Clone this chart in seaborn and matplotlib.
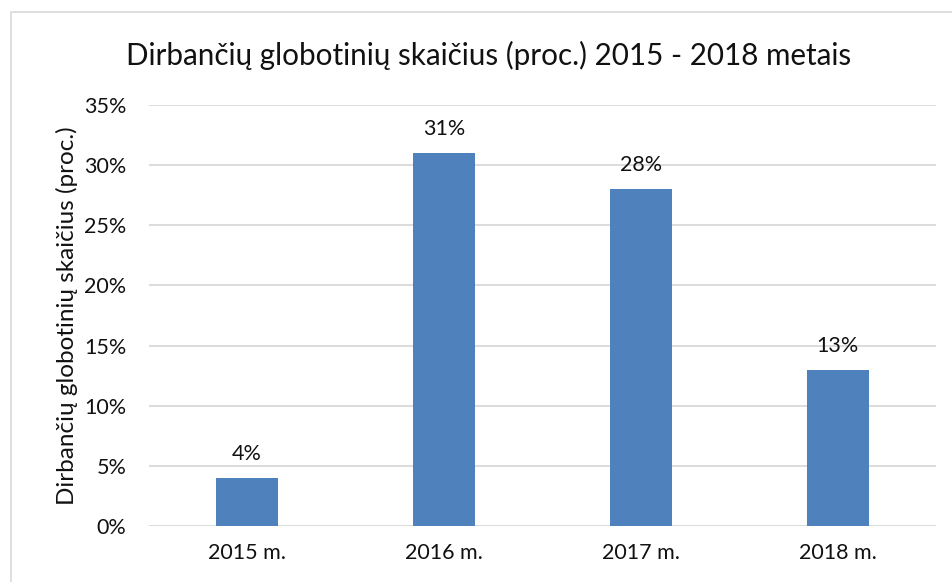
import matplotlib
matplotlib.use("Agg")
import matplotlib.pyplot as plt
import seaborn as sns
import pandas as pd
from matplotlib.patches import Rectangle

categories = ["2015 m.", "2016 m.", "2017 m.", "2018 m."]
values = [4, 31, 28, 13]
yticks = [0, 5, 10, 15, 20, 25, 30, 35]
title = "Dirbančių globotinių skaičius (proc.) 2015 - 2018 metais"
ylabel = "Dirbančių globotinių skaičius (proc.)"

sns.set_theme(style="white")
plt.rcParams['font.family'] = ['Lato', 'DejaVu Sans']

df = pd.DataFrame({"cat": categories, "val": values})

fig = plt.figure(figsize=(9.52, 5.82), dpi=100)
ax = fig.add_axes([148.5/952, 1-526/582, (936-148.5)/952, (526-105)/582])
sns.barplot(data=df, x="cat", y="val", color="#4F81BD", saturation=1, width=0.315,
            linewidth=0, ax=ax, zorder=3)

ax.set_ylim(0, 35)
ax.set_yticks(yticks)
ax.set_yticklabels([f"{t}%" for t in yticks], fontsize=15.5, color="#111111")
ax.tick_params(axis='x', labelsize=15.5, length=0, pad=12, labelcolor="#111111")
ax.tick_params(axis='y', length=0, pad=16)
ax.yaxis.grid(True, color="#D9D9D9", linewidth=1.3, zorder=0)
ax.set_axisbelow(True)
for s in ax.spines.values():
    s.set_visible(False)
ax.set_xlabel("")
ax.set_ylabel(ylabel, fontsize=17.5, labelpad=4, color="#111111")

for p, v in zip(ax.patches, values):
    ax.annotate(f"{v}%", (p.get_x() + p.get_width()/2, p.get_height()),
                xytext=(0, 10), textcoords="offset points", ha="center", va="bottom",
                fontsize=15.5, color="#111111")

fig.text(489/952, 1-55/582, title, ha="center", va="center", fontsize=21.3, color="#111111")
fig.patches.append(Rectangle((11/952, -0.1), 1.1, 1-12/582+0.1, transform=fig.transFigure,
                             fill=False, edgecolor="#D9D9D9", linewidth=1.2))

fig.savefig("out.png", dpi=100)
